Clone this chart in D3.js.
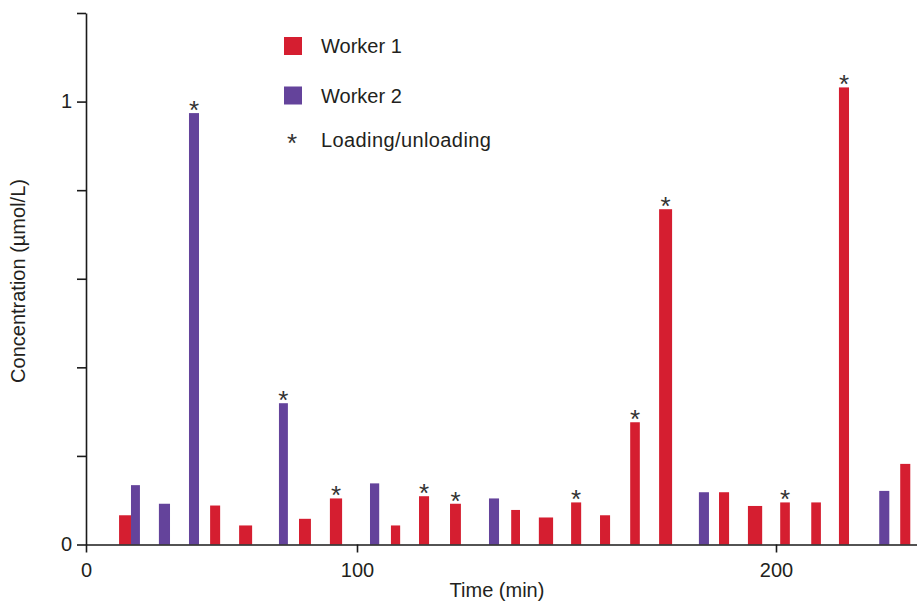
<!DOCTYPE html>
<html>
<head>
<meta charset="utf-8">
<script src="https://cdn.jsdelivr.net/npm/d3@7"></script>
<style>
  html, body { margin: 0; padding: 0; background: #ffffff; }
  svg { display: block; }
  text { font-family: "Liberation Sans", Arial, sans-serif; fill: #231f20; }
</style>
</head>
<body>
<svg id="chart" width="917" height="601"></svg>
<script>
// Sampling intervals (start/end, min), measured concentration and worker for each sample
const sampleStart = [12.2, 16.6, 26.9, 38.0, 45.8, 56.5, 71.2, 78.6, 90.0, 103.1, 108.1, 114.8, 122.2, 131.5,
                     136.8, 143.4, 151.1, 158.0, 165.2, 172.1, 181.6, 186.4, 193.3, 201.0, 208.4, 215.0, 224.6, 229.6];
const sampleEnd   = [16.6, 19.9, 31.0, 41.7, 49.5, 61.3, 74.5, 83.0, 94.5, 105.3, 110.3, 117.2, 124.8, 133.9,
                     138.9, 146.8, 153.5, 160.4, 167.5, 175.2, 184.0, 188.8, 196.7, 203.3, 210.7, 217.4, 227.0, 232.0];
const concentration = [0.066, 0.134, 0.092, 0.974, 0.088, 0.043, 0.319, 0.058, 0.104, 0.138, 0.043, 0.109, 0.092, 0.104,
                       0.078, 0.061, 0.095, 0.066, 0.276, 0.757, 0.118, 0.118, 0.087, 0.095, 0.095, 1.032, 0.121, 0.182];
const worker = [1, 2, 2, 2, 1, 1, 2, 1, 1, 2, 1, 1, 1, 2, 1, 1, 1, 1, 1, 1, 2, 1, 1, 1, 1, 1, 2, 1];
const loading = [false, false, false, true, false, false, true, false, true, false, false, true, true, false,
                 false, false, true, false, true, true, false, false, false, true, false, true, false, false];

const workerNames = ["Worker 1", "Worker 2"];
const loadingLabel = "Loading/unloading";
const xTickValues = [0, 100, 200];
const yTickValues = [0, 0.2, 0.4, 0.6, 0.8, 1, 1.2];
const yLabelled = [0, 1];
const xTitle = "Time (min)";
const yTitle = "Concentration (µmol/L)";

const colors = { 1: "#d51e30", 2: "#64439b" };

const svg = d3.select("#chart");

// Time axis is drawn piecewise (the early part of the shift is compressed)
const x = d3.scaleLinear().domain([0, 100, 200, 233.6]).range([86, 357, 776, 917]);
const y = d3.scaleLinear().domain([0, 1.2]).range([544.5, 13]);

const samples = sampleStart.map((s, i) => ({
  start: s, end: sampleEnd[i], value: concentration[i], worker: worker[i], loading: loading[i]
}));

// Bars
svg.append("g").selectAll("rect").data(samples).join("rect")
  .attr("x", d => x(d.start))
  .attr("width", d => x(d.end) - x(d.start))
  .attr("y", d => y(d.value))
  .attr("height", d => y(0) - y(d.value))
  .attr("fill", d => colors[d.worker]);

// Loading/unloading markers
svg.append("g").selectAll("text").data(samples.filter(d => d.loading)).join("text")
  .attr("x", d => (x(d.start) + x(d.end)) / 2)
  .attr("y", d => y(d.value) + 6)
  .attr("text-anchor", "middle")
  .style("font-size", "26px")
  .style("fill", "#333333")
  .text("*");

// Axes
const xAxis = d3.axisBottom(x).tickValues(xTickValues).tickSize(8).tickSizeOuter(0).tickPadding(10.5)
  .tickFormat(d3.format("d"));
const gx = svg.append("g").attr("transform", `translate(0,${y(0)})`).call(xAxis);

const yAxis = d3.axisLeft(y).tickValues(yTickValues).tickSize(9).tickSizeOuter(0).tickPadding(5)
  .tickFormat(d => yLabelled.includes(d) ? d3.format("d")(d) : "");
const gy = svg.append("g").attr("transform", `translate(${x(0)},0)`).call(yAxis);

[gx, gy].forEach(g => {
  g.select(".domain").attr("stroke", "#1a1a1a").attr("stroke-width", 1.6);
  g.selectAll(".tick line").attr("stroke", "#1a1a1a").attr("stroke-width", 1.6);
  g.selectAll(".tick text").attr("fill", "#231f20")
    .style("font-family", "'Liberation Sans', Arial, sans-serif").style("font-size", "20px");
});

// Axis titles
svg.append("text").attr("x", 497).attr("y", 597).attr("text-anchor", "middle")
  .style("font-size", "20px").text(xTitle);
svg.append("text").attr("transform", "translate(25,281) rotate(-90)").attr("text-anchor", "middle")
  .style("font-size", "20px").text(yTitle);

// Legend
const legend = svg.append("g");
workerNames.forEach((name, i) => {
  const cy = 46 + i * 49.5;
  legend.append("rect").attr("x", 284).attr("y", cy - 9).attr("width", 18).attr("height", 18)
    .attr("fill", colors[i + 1]);
  legend.append("text").attr("x", 321).attr("y", cy + 7).style("font-size", "20px").text(name);
});
legend.append("text").attr("x", 292).attr("y", 152).attr("text-anchor", "middle")
  .style("font-size", "26px").style("fill", "#333333").text("*");
legend.append("text").attr("x", 321).attr("y", 146.5).style("font-size", "20px")
  .style("letter-spacing", "0.4px").text(loadingLabel);
</script>
</body>
</html>
